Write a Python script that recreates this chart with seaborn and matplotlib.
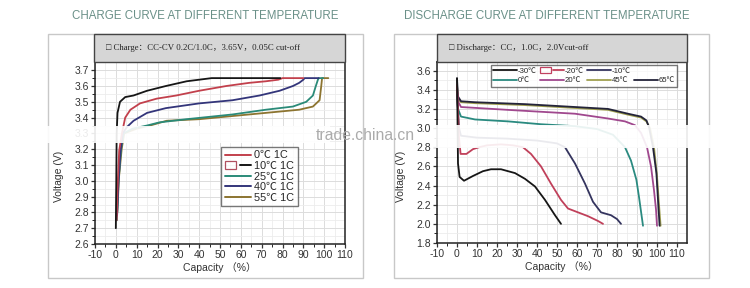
import matplotlib
matplotlib.use("Agg")
import matplotlib.pyplot as plt
from matplotlib.patches import Rectangle
from matplotlib.lines import Line2D
from matplotlib.legend_handler import HandlerTuple
import seaborn as sns
import pandas as pd
import numpy as np

# ---------------- data: charge ----------------
charge_labels = ["0℃ 1C", "10℃ 1C", "25℃ 1C", "40℃ 1C", "55℃ 1C"]
c0_cap = [0.4, 0.8, 1.6, 2.9, 4.5, 7, 11.6, 19.6, 29, 40, 53, 64, 72, 78, 80, 90]
c0_v = [2.75, 2.95, 3.19, 3.30, 3.40, 3.45, 3.49, 3.52, 3.54, 3.57, 3.60, 3.62, 3.63, 3.64, 3.65, 3.65]
c10_cap = [0, 0.1, 0.2, 0.4, 0.8, 2, 4.5, 8.5, 15, 24, 34, 40, 46, 60, 79]
c10_v = [2.70, 2.85, 2.98, 3.30, 3.43, 3.50, 3.53, 3.54, 3.57, 3.60, 3.63, 3.64, 3.65, 3.65, 3.65]
c25_cap = [0.5, 1.3, 2.5, 3.7, 8, 15, 21, 34, 56, 72, 85, 91.4, 94.6, 96, 97, 97.4, 99.5]
c25_v = [2.75, 3.0, 3.2, 3.30, 3.33, 3.35, 3.37, 3.39, 3.42, 3.45, 3.47, 3.50, 3.54, 3.60, 3.64, 3.65, 3.65]
c40_cap = [0.6, 1.2, 2.2, 3.3, 5.3, 8.5, 15, 24, 40, 56, 69, 78.6, 85, 88, 90, 90.6, 97.4]
c40_v = [2.78, 2.98, 3.18, 3.30, 3.34, 3.38, 3.43, 3.46, 3.49, 3.51, 3.54, 3.57, 3.60, 3.62, 3.64, 3.65, 3.65]
c55_cap = [0.7, 1.5, 2.8, 4, 10, 16.4, 24.4, 40, 56, 72, 88, 94.6, 97.8, 98.6, 99, 102]
c55_v = [2.8, 3.02, 3.2, 3.30, 3.33, 3.35, 3.38, 3.39, 3.41, 3.43, 3.45, 3.47, 3.51, 3.60, 3.65, 3.65]

# ---------------- data: discharge ----------------
dis_labels = ["-30℃", "-20℃", "-10℃", "0℃", "20℃", "45℃", "65℃"]
dm30_cap = [0, 0.2, 0.5, 1.3, 3.5, 8, 13, 17, 22, 29, 34, 39, 44, 49, 52]
dm30_v = [3.52, 3.2, 2.63, 2.49, 2.45, 2.50, 2.55, 2.57, 2.57, 2.53, 2.47, 2.39, 2.25, 2.09, 2.0]
dm20_cap = [0, 0.3, 1, 1.8, 4.7, 8, 11, 15, 22, 28, 33, 37, 42, 47, 52, 55.5, 60.5, 65.5, 70.5, 73]
dm20_v = [3.45, 3.3, 2.9, 2.73, 2.73, 2.78, 2.80, 2.82, 2.83, 2.82, 2.80, 2.73, 2.60, 2.42, 2.25, 2.16, 2.12, 2.08, 2.03, 2.0]
dm10_cap = [0, 0.3, 1, 2, 10, 25, 40, 50, 54, 59, 64, 68, 72, 77, 80, 82]
dm10_v = [3.4, 3.25, 3.0, 2.92, 2.90, 2.89, 2.87, 2.84, 2.80, 2.63, 2.42, 2.23, 2.12, 2.09, 2.05, 2.0]
d0_cap = [0, 0.5, 2, 9, 25.5, 42, 59, 70, 78, 84, 87, 89.7, 91, 93]
d0_v = [3.35, 3.2, 3.12, 3.09, 3.07, 3.04, 3.02, 2.99, 2.93, 2.80, 2.66, 2.46, 2.28, 1.98]
d20_cap = [0, 0.5, 2, 25.5, 59, 75.5, 84, 89, 92, 95, 97, 98.5, 99.5, 100]
d20_v = [3.4, 3.28, 3.22, 3.19, 3.15, 3.10, 3.07, 3.03, 2.95, 2.8, 2.6, 2.35, 2.15, 1.98]
d45_cap = [0, 0.5, 2, 9, 34, 59, 75.5, 85.5, 92, 94.7, 96.5, 98.5, 100, 101, 101.8]
d45_v = [3.45, 3.3, 3.27, 3.26, 3.24, 3.21, 3.19, 3.14, 3.11, 3.07, 3.0, 2.8, 2.5, 2.2, 1.98]
d65_cap = [0, 0.5, 2, 9, 34, 59, 75.5, 85.5, 92, 94.7, 96, 98, 99.7, 100.5, 101.3]
d65_v = [3.52, 3.33, 3.28, 3.27, 3.25, 3.22, 3.20, 3.15, 3.12, 3.08, 3.01, 2.80, 2.53, 2.25, 1.98]

cap_ticks = list(range(-10, 111, 10))
charge_ticks_y = [2.6, 2.7, 2.8, 2.9, 3.0, 3.1, 3.2, 3.3, 3.4, 3.5, 3.6, 3.7]
dis_ticks_y = [1.8, 2.0, 2.2, 2.4, 2.6, 2.8, 3.0, 3.2, 3.4, 3.6]

title_left = "CHARGE CURVE AT DIFFERENT TEMPERATURE"
title_right = "DISCHARGE CURVE AT DIFFERENT TEMPERATURE"
header_left = "□ Charge：CC-CV 0.2C/1.0C，3.65V，0.05C cut-off"
header_right = "□ Discharge：CC，1.0C，2.0Vcut-off"
watermark = "trade.china.cn"

charge_colors = {"0℃ 1C": "#c2404c", "10℃ 1C": "#161616", "25℃ 1C": "#2a8a78",
                 "40℃ 1C": "#33357a", "55℃ 1C": "#8c7430"}
dis_colors = {"-30℃": "#161616", "-20℃": "#c0405a", "-10℃": "#34345e", "0℃": "#2a8a80",
              "20℃": "#a0488e", "45℃": "#a0a050", "65℃": "#24243a"}

sns.set_style("white")
plt.rcParams["font.family"] = ["Liberation Sans", "Noto Sans CJK SC", "DejaVu Sans"]
plt.rcParams["axes.unicode_minus"] = False

def make_df(caps, vs, labels):
    rows = []
    for c, v, l in zip(caps, vs, labels):
        for i, (x, y) in enumerate(zip(c, v)):
            rows.append({"cap": x, "v": y, "T": l, "i": i})
    return pd.DataFrame(rows)

charge_df = make_df([c0_cap, c10_cap, c25_cap, c40_cap, c55_cap],
                    [c0_v, c10_v, c25_v, c40_v, c55_v], charge_labels)
dis_df = make_df([dm30_cap, dm20_cap, dm10_cap, d0_cap, d20_cap, d45_cap, d65_cap],
                 [dm30_v, dm20_v, dm10_v, d0_v, d20_v, d45_v, d65_v], dis_labels)

W, H = 750, 288
fig = plt.figure(figsize=(7.5, 2.88), dpi=100)
fig.patch.set_facecolor("white")

def fx(px):
    return px / W

def fy(py):
    return 1 - py / H

# outer frames
for x0, x1 in [(48, 363), (394, 709)]:
    fig.add_artist(Rectangle((fx(x0), fy(278)), fx(x1 - x0), (278 - 34) / H,
                             transform=fig.transFigure, facecolor="white",
                             edgecolor="#c8c8c8", lw=1.0, zorder=0))

# titles
fig.text(fx(205), fy(16), title_left, ha="center", va="center", fontsize=8.3, color="#6a9088")
fig.text(fx(547), fy(16), title_right, ha="center", va="center", fontsize=8.3, color="#6a9088")

# headers
for x0, x1, txt in [(94, 345, header_left), (437, 687, header_right)]:
    fig.add_artist(Rectangle((fx(x0), fy(62)), fx(x1 - x0), (62 - 34) / H,
                             transform=fig.transFigure, facecolor="#d6d6d6",
                             edgecolor="#444444", lw=1.0, zorder=1))
    fig.text(fx(x0 + 12), fy(48), txt, ha="left", va="center", fontsize=6.3,
             family=["Liberation Serif", "Noto Sans CJK SC", "DejaVu Sans"], color="#222222")

axL = fig.add_axes([fx(95), fy(244), fx(250), (244 - 62) / H])
axR = fig.add_axes([fx(437), fy(243), fx(250), (243 - 62) / H])

sns.lineplot(data=charge_df, x="cap", y="v", hue="T", palette=charge_colors, sort=False,
             estimator=None, units="T", ax=axL, lw=1.3, legend=False,
             hue_order=["55℃ 1C", "25℃ 1C", "40℃ 1C", "0℃ 1C", "10℃ 1C"])
sns.lineplot(data=dis_df, x="cap", y="v", hue="T", palette=dis_colors, sort=False,
             estimator=None, units="T", ax=axR, lw=1.3, legend=False,
             hue_order=["45℃", "65℃", "20℃", "0℃", "-10℃", "-20℃", "-30℃"])

def style_axis(ax, xlim, ylim, yticks, yminor):
    ax.set_xlim(*xlim)
    ax.set_ylim(*ylim)
    ax.set_xticks(cap_ticks)
    ax.set_xticks(np.arange(-5, xlim[1], 10), minor=True)
    ax.set_yticks(yticks)
    ax.set_yticks(yminor, minor=True)
    ax.set_yticklabels([f"{t:.1f}" for t in yticks])
    ax.grid(True, which="major", color="#dcdcdc", lw=0.7)
    ax.grid(True, which="minor", color="#ececec", lw=0.6)
    ax.set_axisbelow(True)
    for s in ax.spines.values():
        s.set_color("#222222")
        s.set_linewidth(1.1)
    ax.tick_params(which="major", direction="out", length=3, width=0.9, labelsize=7.5,
                   colors="#333333", left=True, bottom=True, pad=1.5)
    ax.tick_params(which="minor", direction="out", length=2, width=0.7, left=True, bottom=True)
    ax.set_xlabel("Capacity （%）", fontsize=7.5, color="#333333", labelpad=1)
    ax.set_ylabel("Voltage (V)", fontsize=7.5, color="#333333")
    ax.yaxis.set_label_coords(-0.125, 0.37)

style_axis(axL, (-10, 110), (2.6, 3.752), charge_ticks_y, np.arange(2.65, 3.75, 0.1))
style_axis(axR, (-10, 115), (1.8, 3.69), dis_ticks_y, np.arange(1.9, 3.69, 0.2))

# legend left
hL = []
for lab in charge_labels:
    ln = Line2D([], [], color=charge_colors[lab], lw=1.4)
    if lab == "10℃ 1C":
        hL.append((Rectangle((0, 0), 1, 1, facecolor="none", edgecolor="#b05060", lw=0.9), ln))
    else:
        hL.append(ln)
legL = axL.legend(hL, charge_labels, loc="upper left", bbox_to_anchor=(0.505, 0.535),
                  fontsize=7.8, frameon=True, fancybox=False, edgecolor="#555555",
                  handlelength=2.4, handletextpad=0.3, labelspacing=0.05, borderpad=0.35,
                  borderaxespad=0.0,
                  handler_map={tuple: HandlerTuple(ndivide=None)})
legL.get_frame().set_linewidth(1.0)
legL.set_zorder(5)

# legend right (two rows)
blank = Line2D([], [], alpha=0)
order = ["-30℃", "0℃", "-20℃", "20℃", "-10℃", "45℃", None, "65℃"]
hR, lR = [], []
for lab in order:
    if lab is None:
        hR.append(blank)
        lR.append("")
        continue
    ln = Line2D([], [], color=dis_colors[lab], lw=1.3)
    if lab == "-20℃":
        hR.append((Rectangle((0, 0), 1, 1, facecolor="none", edgecolor="#c04060", lw=0.9), ln))
    else:
        hR.append(ln)
    lR.append(lab)
legR = axR.legend(hR, lR, loc="upper left", bbox_to_anchor=(0.215, 0.985), ncol=4,
                  fontsize=5.6, frameon=True, fancybox=False, edgecolor="#555555",
                  handlelength=3.0, handletextpad=0.1, labelspacing=0.25, borderpad=0.35,
                  borderaxespad=0.0, columnspacing=0.5,
                  handler_map={tuple: HandlerTuple(ndivide=None)})
legR.get_frame().set_linewidth(1.0)
legR.set_zorder(5)

# watermark band and text
for x0, x1, y0, y1 in [(45, 330, 126, 143), (430, 720, 125, 148)]:
    fig.add_artist(Rectangle((fx(x0), fy(y1)), fx(x1 - x0), (y1 - y0) / H,
                             transform=fig.transFigure, facecolor="white", edgecolor="none",
                             alpha=0.9, zorder=10))
fig.text(fx(316), fy(136), watermark, ha="left", va="center", fontsize=11.3,
         color="#ababab", zorder=11)

fig.savefig("out.png", dpi=100, facecolor="white")
